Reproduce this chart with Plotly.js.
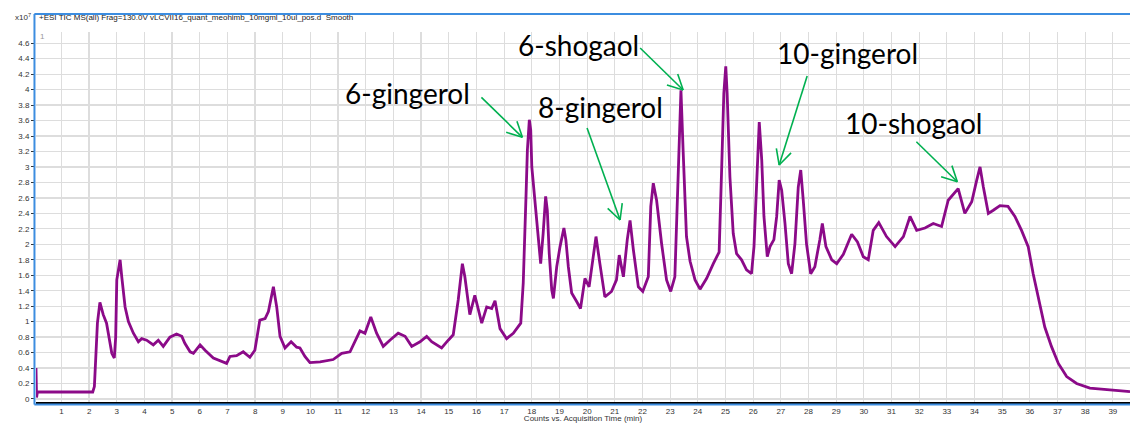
<!DOCTYPE html>
<html>
<head>
<meta charset="utf-8">
<script src="https://cdn.plot.ly/plotly-3.0.1.min.js"></script>
<style>
html,body{margin:0;padding:0;background:#fff;}
#chart{width:1130px;height:423px;}
</style>
</head>
<body>
<div id="chart"></div>
<script>
// Acquisition time (min)
const timeMin = [
0.08,0.10,0.13,0.5,1.0,1.5,2.0,2.13,2.19,2.25,2.30,2.39,2.45,2.51,2.63,2.82,2.91,2.96,3.00,3.12,
3.18,3.30,3.42,3.60,3.78,3.90,4.08,4.32,4.50,4.68,4.92,5.16,5.35,5.46,5.65,5.77,6.01,6.19,6.49,6.85,
6.97,7.09,7.33,7.57,7.81,7.99,8.17,8.36,8.48,8.66,8.78,8.90,9.08,9.30,9.50,9.62,9.80,9.98,10.35,10.82,
11.13,11.43,11.79,11.97,12.18,12.39,12.63,12.87,13.17,13.42,13.66,13.96,14.20,14.38,14.74,14.98,15.16,15.34,15.49,15.58,
15.76,15.94,16.19,16.37,16.55,16.67,16.85,17.09,17.33,17.60,17.69,17.79,17.84,17.91,17.96,18.00,18.09,18.23,18.32,18.41,
18.50,18.56,18.63,18.72,18.78,18.90,19.02,19.16,19.23,19.32,19.44,19.62,19.76,19.92,20.07,20.22,20.32,20.46,20.64,20.88,
21.06,21.16,21.31,21.45,21.55,21.67,21.85,22.01,22.21,22.30,22.39,22.51,22.69,22.87,23.02,23.17,23.27,23.33,23.39,23.47,
23.59,23.72,23.90,24.08,24.32,24.56,24.77,24.86,24.94,25.01,25.06,25.16,25.28,25.40,25.58,25.76,25.94,26.03,26.13,26.22,
26.31,26.39,26.51,26.61,26.75,26.85,26.94,27.03,27.15,27.27,27.39,27.51,27.63,27.72,27.81,27.93,28.08,28.23,28.41,28.50,
28.63,28.84,29.02,29.26,29.56,29.77,29.98,30.16,30.34,30.54,30.82,31.13,31.43,31.67,31.91,32.21,32.51,32.81,33.05,33.41,
33.65,33.90,34.08,34.20,34.32,34.50,34.68,34.92,35.21,35.46,35.70,35.94,36.12,36.30,36.54,36.78,37.03,37.33,37.69,38.17,
38.78,39.62
];
// Counts (x10^7)
const counts = [
0.40,0.02,0.09,0.09,0.085,0.09,0.085,0.09,0.16,0.60,0.98,1.25,1.15,1.09,0.98,0.59,0.53,0.80,1.54,1.80,
1.58,1.19,1.00,0.85,0.74,0.78,0.76,0.70,0.76,0.68,0.80,0.84,0.81,0.72,0.61,0.59,0.70,0.63,0.53,0.48,
0.46,0.55,0.56,0.61,0.54,0.63,1.02,1.04,1.13,1.45,1.19,0.81,0.66,0.74,0.67,0.66,0.55,0.47,0.48,0.51,
0.59,0.61,0.88,0.85,1.06,0.85,0.68,0.76,0.85,0.81,0.68,0.74,0.81,0.74,0.66,0.76,0.83,1.28,1.75,1.58,
1.09,1.34,0.98,1.19,1.17,1.27,0.91,0.78,0.85,0.98,1.50,2.62,3.22,3.61,3.48,3.00,2.62,2.06,1.75,2.14,
2.62,2.44,1.88,1.41,1.30,1.71,1.97,2.21,2.06,1.71,1.37,1.26,1.17,1.56,1.45,1.84,2.10,1.75,1.32,1.39,
1.54,1.86,1.58,2.06,2.31,1.93,1.45,1.39,1.58,2.49,2.79,2.57,2.01,1.54,1.39,1.58,2.57,3.43,3.99,3.20,
2.10,1.78,1.54,1.42,1.56,1.75,1.90,2.96,3.95,4.30,3.95,2.87,2.14,1.88,1.80,1.67,1.62,1.97,2.87,3.58,
3.09,2.36,1.84,1.97,2.06,2.36,2.83,2.70,2.27,1.75,1.62,2.01,2.74,2.96,2.57,2.00,1.62,1.71,2.06,2.27,
1.97,1.80,1.75,1.87,2.13,2.03,1.84,1.80,2.18,2.28,2.10,1.97,2.10,2.36,2.18,2.21,2.27,2.23,2.57,2.72,
2.40,2.55,2.83,3.00,2.74,2.40,2.44,2.50,2.49,2.36,2.18,1.97,1.62,1.32,0.93,0.68,0.46,0.29,0.20,0.14,
0.12,0.095
];

// Compound labels
const labelNames = ["6-gingerol", "6-shogaol", "8-gingerol", "10-gingerol", "10-shogaol"];
const labelX = [13.49, 19.70, 20.50, 29.42, 31.78];
const labelY = [3.956, 4.577, 3.775, 4.473, 3.568];
// Arrow tips (data) and tail offsets (screen pixels, y down)
const arrowTipX = [17.66, 23.47, 21.19, 26.94, 33.38];
const arrowTipY = [3.383, 3.995, 2.314, 3.025, 2.809];
const arrowTailDX = [-41, -43, -33, 28, -41];
const arrowTailDY = [-40, -42, -92, -89, -40];

const headerText = "+ESI TIC MS(all) Frag=130.0V vLCVII16_quant_meohimb_10mgml_10ul_pos.d  Smooth";

const green = "#00b050";
const purple = "#8b0a88";
const frameBlue = "#3c8de0";

const W = 1130, H = 423;
const margin = {l: 36, r: 0, t: 32, b: 21};
const xRange = [0.08, 39.62];
const yRange = [-0.039, 4.745];
// pixel scale of the axes, to convert pixel offsets of the arrows to data units
const pxPerX = (W - margin.l - margin.r) / (xRange[1] - xRange[0]);
const pxPerY = (H - margin.t - margin.b) / (yRange[1] - yRange[0]);

const annotations = [];
for (let i = 0; i < labelNames.length; i++) {
  annotations.push({
    x: labelX[i], y: labelY[i], xref: "x", yref: "y",
    text: labelNames[i], showarrow: false,
    font: {family: "Lato, 'Open Sans', sans-serif", size: 28, color: "#000"},
    xanchor: "center", yanchor: "middle"
  });
}
const shapes = [
  {type: "line", xref: "paper", yref: "paper", x0: -0.0015, x1: 1, y0: 1.0485, y1: 1.0485,
   line: {color: frameBlue, width: 2}},
  {type: "line", xref: "paper", yref: "paper", x0: -0.0014, x1: -0.0014, y0: 1.0485, y1: -0.0065,
   line: {color: frameBlue, width: 2}},
  {type: "line", xref: "paper", yref: "paper", x0: -0.0015, x1: 1, y0: -0.0065, y1: -0.0065,
   line: {color: frameBlue, width: 2}}
];
function segment(x0, y0, dxPx, dyPx) {
  shapes.push({
    type: "line", xref: "x", yref: "y",
    x0: x0, y0: y0, x1: x0 + dxPx / pxPerX, y1: y0 - dyPx / pxPerY,
    line: {color: green, width: 1.6}
  });
}
for (let i = 0; i < arrowTipX.length; i++) {
  const ax = arrowTailDX[i], ay = arrowTailDY[i];
  segment(arrowTipX[i], arrowTipY[i], ax, ay);
  const len = Math.hypot(ax, ay);
  const ux = ax / len, uy = ay / len;
  [27, -27].forEach(function (deg) {
    const t = deg * Math.PI / 180;
    const rx = ux * Math.cos(t) - uy * Math.sin(t);
    const ry = ux * Math.sin(t) + uy * Math.cos(t);
    segment(arrowTipX[i], arrowTipY[i], rx * 17, ry * 17);
  });
}
// header, exponent label, panel number
annotations.push({
  x: 0.001, y: 1.0405, xref: "paper", yref: "paper", text: headerText,
  showarrow: false, xanchor: "left", yanchor: "middle",
  font: {family: "Liberation Sans, Arial, sans-serif", size: 8, color: "#222"}
});
annotations.push({
  x: -0.003, y: 1.0405, xref: "paper", yref: "paper", text: "x10<sup>7</sup>",
  showarrow: false, xanchor: "right", yanchor: "middle",
  font: {family: "Liberation Sans, Arial, sans-serif", size: 8, color: "#333"}
});
annotations.push({
  x: 0.002, y: 0.987, xref: "paper", yref: "paper", text: "1",
  showarrow: false, xanchor: "left", yanchor: "middle",
  font: {family: "Liberation Sans, Arial, sans-serif", size: 8, color: "#999"}
});

const layout = {
  width: W, height: H,
  margin: margin,
  paper_bgcolor: "#fff", plot_bgcolor: "#fff",
  showlegend: false,
  font: {family: "Liberation Sans, Arial, sans-serif", size: 8, color: "#333"},
  xaxis: {
    range: xRange, tick0: 0, dtick: 1, tickmode: "linear",
    showgrid: true, gridcolor: "#dddddd", gridwidth: 1.3,
    zeroline: false, showline: true, linecolor: "#000", linewidth: 2,
    ticks: "", tickfont: {size: 8, color: "#333"},
    title: {text: "Counts vs. Acquisition Time (min)", font: {size: 8, color: "#333"}, standoff: 2}
  },
  yaxis: {
    range: yRange, tick0: 0, dtick: 0.2, tickmode: "linear",
    showgrid: true, gridcolor: "#dddddd", gridwidth: 1.3,
    zeroline: false, showline: false,
    ticks: "outside", ticklen: 4, tickcolor: "#333", tickwidth: 1,
    tickfont: {size: 8, color: "#333"}
  },
  shapes: shapes,
  annotations: annotations
};

const trace = {
  x: timeMin, y: counts, type: "scatter", mode: "lines",
  line: {color: purple, width: 2.8},
  hoverinfo: "x+y"
};

Plotly.newPlot("chart", [trace], layout, {displayModeBar: false, staticPlot: true});
</script>
</body>
</html>
